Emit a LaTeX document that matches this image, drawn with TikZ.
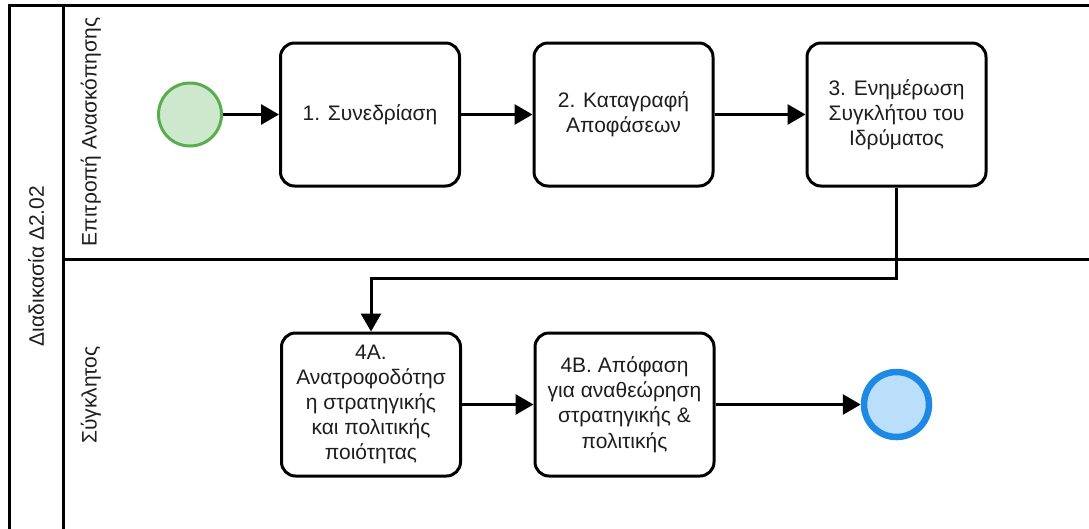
\documentclass[tikz,border=0pt]{standalone}
\usepackage{fontspec}
\setmainfont{Liberation Sans}
\usetikzlibrary{arrows.meta}
\definecolor{inkc}{HTML}{1E1E1E}
\definecolor{startfill}{HTML}{CDE8CC}
\definecolor{startline}{HTML}{58AE4C}
\definecolor{endfill}{HTML}{BBDEFB}
\definecolor{endline}{HTML}{1E88E5}
\tikzset{
  task/.style={draw=black, line width=3pt, rounded corners=14pt, fill=white,
    minimum width=179pt, minimum height=143pt, inner sep=0pt, align=center,
    text=inkc, font=\fontsize{21}{25.2}\selectfont},
  startev/.style={circle, draw=startline, fill=startfill, line width=3pt,
    minimum size=63pt, inner sep=0pt},
  endev/.style={circle, draw=endline, fill=endfill, line width=6.5pt,
    minimum size=65pt, inner sep=0pt},
  flow/.style={line width=3pt, -{Triangle[length=18pt,width=20pt]}},
  poolline/.style={line width=3pt, draw=black},
  lanelabel/.style={rotate=90, text=inkc, font=\fontsize{21}{25.2}\selectfont}
}
\begin{document}
\begin{tikzpicture}[x=1pt, y=-1pt]
\useasboundingbox (0,0) rectangle (1089,528);
\clip (0,0) rectangle (1089,528);
\fill[white] (0,0) rectangle (1089,528);

% pool and lanes
\draw[poolline] (1100,5) -- (9,5) -- (9,540);
\draw[poolline] (63,5) -- (63,540);
\draw[poolline] (63,259) -- (1100,259);

\node[lanelabel] (pool) at (36,266) {Διαδικασία Δ2.02};
\node[lanelabel] (lane1) at (91,132) {Επιτροπή Ανασκόπησης};
\node[lanelabel] (lane2) at (91,395) {Σύγκλητος};

% events and tasks
\node[startev] (start) at (190,114.5) {};
\node[task] (t1) at (370,114.5) {1. Συνεδρίαση};
\node[task] (t2) at (623.5,114.5) {2. Καταγραφή\\Αποφάσεων};
\node[task] (t3) at (896.5,114.5) {3. Ενημέρωση\\Συγκλήτου του\\Ιδρύματος};
\node[task] (t4a) at (371,404.5) {4Α.\\Ανατροφοδότησ\\η στρατηγικής\\και πολιτικής\\ποιότητας};
\node[task] (t4b) at (624.5,404.5) {4Β. Απόφαση\\για αναθεώρηση\\στρατηγικής \&\\πολιτικής};
\node[endev] (end) at (896.5,404.5) {};

% sequence flows
\draw[flow] (start) -- (t1);
\draw[flow] (t1) -- (t2);
\draw[flow] (t2) -- (t3);
\coordinate (bendA) at (896.5,278);
\coordinate (bendB) at (371,278);
\draw[flow] (t3.south) -- (bendA) -- (bendB) -- (t4a.north);
\draw[flow] (t4a) -- (t4b);
\draw[flow] (t4b) -- (end);
\end{tikzpicture}
\end{document}
